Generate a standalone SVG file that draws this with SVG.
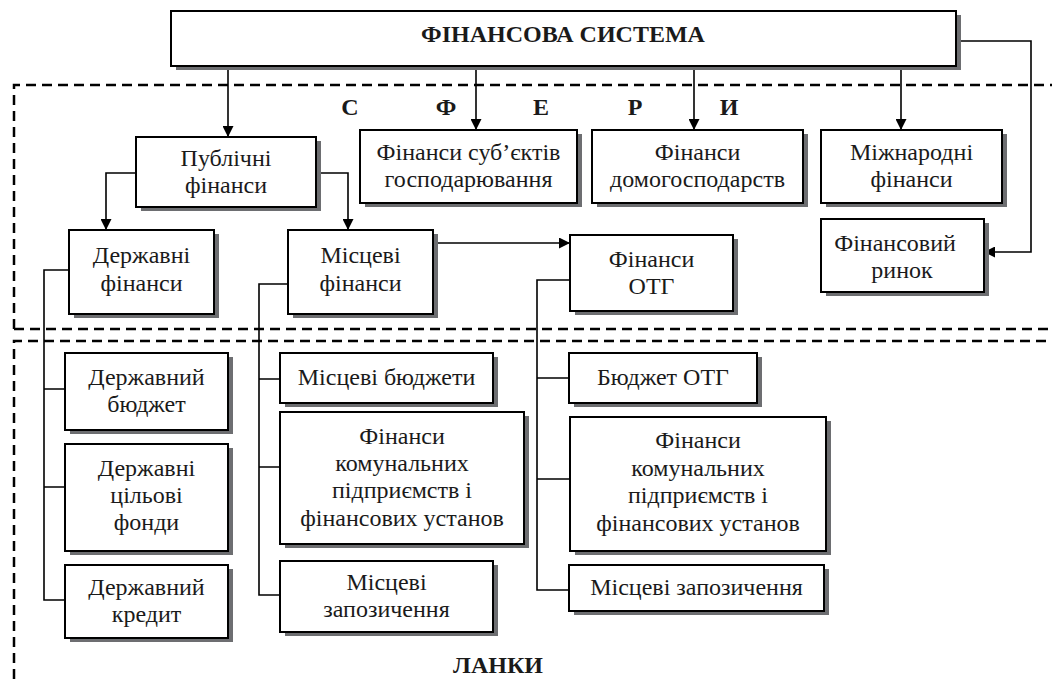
<svg xmlns="http://www.w3.org/2000/svg" width="1052" height="679" viewBox="0 0 1052 679">
<style>
.bg{fill:#ffffff}
.sh{fill:#6d6e71}
.bx{fill:#ffffff;stroke:#000000;stroke-width:2}
.t{font-family:'Liberation Serif','Times New Roman',serif;font-size:24px;fill:#1a1a1a;text-anchor:middle}
.b{font-family:'Liberation Serif','Times New Roman',serif;font-size:24px;font-weight:bold;fill:#1a1a1a;text-anchor:middle}
.c{fill:none;stroke:#000000;stroke-width:1.6}
.d{fill:none;stroke:#000000;stroke-width:2.5;stroke-dasharray:10 6}
</style>
<defs>
<marker id="ar" markerUnits="userSpaceOnUse" markerWidth="11" markerHeight="11" refX="11" refY="5.5" orient="auto">
<path d="M0,0 L11,5.5 L0,11 z" fill="#000000"/>
</marker>
</defs>
<rect class="bg" x="0" y="0" width="1052" height="679"/>
<g id="regions">
<path class="d" d="M14,329 V85 H1052"/>
<path class="d" d="M14,329 H1052"/>
<path class="d" d="M14,679 V341 H1052"/>
<text class="b" x="350 446 541 635 729" y="115">СФЕРИ</text>
<text class="b" x="498" y="673">ЛАНКИ</text>
</g>
<g id="connectors">
<path class="c" d="M228,66 V137" marker-end="url(#ar)"/>
<path class="c" d="M476,66 V130" marker-end="url(#ar)"/>
<path class="c" d="M694,66 V130" marker-end="url(#ar)"/>
<path class="c" d="M901,66 V130" marker-end="url(#ar)"/>
<path class="c" d="M956,41 H1031 V252 H984" marker-end="url(#ar)"/>
<path class="c" d="M136,173 H106 V230" marker-end="url(#ar)"/>
<path class="c" d="M316,173 H348 V230" marker-end="url(#ar)"/>
<path class="c" d="M433,243 H570" marker-end="url(#ar)"/>
<path class="c" d="M69,270 H44 V600 H65 M44,389 H65 M44,487 H65"/>
<path class="c" d="M288,284 H259 V595 H280 M259,379 H280 M259,467 H280"/>
<path class="c" d="M570,280 H537 V590 H569 M537,378 H569 M537,479 H570"/>
</g>
<g id="n-top">
<rect class="sh" x="176" y="15" width="785" height="55"/>
<rect class="bx" x="171" y="11" width="785" height="55"/>
<text class="b" x="563" y="42">ФІНАНСОВА СИСТЕМА</text>
</g>
<g id="n-pub">
<rect class="sh" x="141" y="141" width="180" height="70"/>
<rect class="bx" x="136" y="137" width="180" height="70"/>
<text class="t" x="226" y="166">Публічні</text>
<text class="t" x="226" y="193">фінанси</text>
</g>
<g id="n-sub">
<rect class="sh" x="365" y="134" width="217" height="73"/>
<rect class="bx" x="360" y="130" width="217" height="73"/>
<text class="t" x="468.5" y="160">Фінанси суб’єктів</text>
<text class="t" x="468.5" y="187">господарювання</text>
</g>
<g id="n-dom">
<rect class="sh" x="597" y="134" width="211" height="73"/>
<rect class="bx" x="592" y="130" width="211" height="73"/>
<text class="t" x="697.5" y="160">Фінанси</text>
<text class="t" x="697.5" y="187">домогосподарств</text>
</g>
<g id="n-mizh">
<rect class="sh" x="826" y="134" width="181" height="73"/>
<rect class="bx" x="821" y="130" width="181" height="73"/>
<text class="t" x="911.5" y="160">Міжнародні</text>
<text class="t" x="911.5" y="187">фінанси</text>
</g>
<g id="n-derzh">
<rect class="sh" x="74" y="234" width="145" height="84"/>
<rect class="bx" x="69" y="230" width="145" height="84"/>
<text class="t" x="141.5" y="263">Державні</text>
<text class="t" x="141.5" y="291">фінанси</text>
</g>
<g id="n-mists">
<rect class="sh" x="293" y="234" width="145" height="84"/>
<rect class="bx" x="288" y="230" width="145" height="84"/>
<text class="t" x="360.5" y="263">Місцеві</text>
<text class="t" x="360.5" y="291">фінанси</text>
</g>
<g id="n-otg">
<rect class="sh" x="575" y="239" width="163" height="76"/>
<rect class="bx" x="570" y="235" width="163" height="76"/>
<text class="t" x="651.5" y="267">Фінанси</text>
<text class="t" x="651.5" y="294">ОТГ</text>
</g>
<g id="n-rynok">
<rect class="sh" x="826" y="223" width="163" height="73"/>
<rect class="bx" x="821" y="219" width="163" height="73"/>
<text class="t" x="895" y="251">Фінансовий</text>
<text class="t" x="902" y="278">ринок</text>
</g>
<g id="n-db">
<rect class="sh" x="70" y="357" width="163" height="77"/>
<rect class="bx" x="65" y="353" width="163" height="77"/>
<text class="t" x="146.5" y="385">Державний</text>
<text class="t" x="146.5" y="412">бюджет</text>
</g>
<g id="n-dcf">
<rect class="sh" x="70" y="448" width="163" height="107"/>
<rect class="bx" x="65" y="444" width="163" height="107"/>
<text class="t" x="146.5" y="476">Державні</text>
<text class="t" x="146.5" y="503">цільові</text>
<text class="t" x="146.5" y="530">фонди</text>
</g>
<g id="n-dk">
<rect class="sh" x="70" y="569" width="163" height="73"/>
<rect class="bx" x="65" y="565" width="163" height="73"/>
<text class="t" x="146.5" y="595">Державний</text>
<text class="t" x="146.5" y="622">кредит</text>
</g>
<g id="n-mb">
<rect class="sh" x="285" y="357" width="213" height="50"/>
<rect class="bx" x="280" y="353" width="213" height="50"/>
<text class="t" x="386.5" y="385">Місцеві бюджети</text>
</g>
<g id="n-mfk">
<rect class="sh" x="285" y="416" width="244" height="132"/>
<rect class="bx" x="280" y="412" width="244" height="132"/>
<text class="t" x="402" y="444">Фінанси</text>
<text class="t" x="402" y="471">комунальних</text>
<text class="t" x="402" y="498">підприємств і</text>
<text class="t" x="402" y="526">фінансових установ</text>
</g>
<g id="n-mz">
<rect class="sh" x="285" y="565" width="213" height="71"/>
<rect class="bx" x="280" y="561" width="213" height="71"/>
<text class="t" x="386.5" y="590">Місцеві</text>
<text class="t" x="386.5" y="617">запозичення</text>
</g>
<g id="n-bo">
<rect class="sh" x="574" y="357" width="188" height="50"/>
<rect class="bx" x="569" y="353" width="188" height="50"/>
<text class="t" x="663" y="385">Бюджет ОТГ</text>
</g>
<g id="n-ofk">
<rect class="sh" x="575" y="421" width="256" height="134"/>
<rect class="bx" x="570" y="417" width="256" height="134"/>
<text class="t" x="698" y="448">Фінанси</text>
<text class="t" x="698" y="476">комунальних</text>
<text class="t" x="698" y="503">підприємств і</text>
<text class="t" x="698" y="531">фінансових установ</text>
</g>
<g id="n-omz">
<rect class="sh" x="574" y="569" width="255" height="46"/>
<rect class="bx" x="569" y="565" width="255" height="46"/>
<text class="t" x="696.5" y="595">Місцеві запозичення</text>
</g>
</svg>
